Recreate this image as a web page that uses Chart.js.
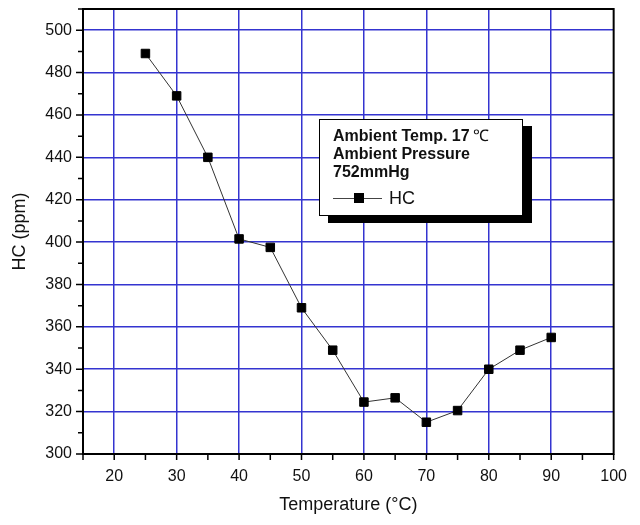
<!DOCTYPE html>
<html>
<head>
<meta charset="utf-8">
<script src="https://cdn.jsdelivr.net/npm/chart.js@4/dist/chart.umd.min.js"></script>
<style>
  body { margin: 0; background: #fff; }
  #wrap { position: relative; width: 640px; height: 525px; }
  #legend {
    position: absolute; left: 319px; top: 119px; width: 204px; height: 97px;
    box-sizing: border-box; border: 1.5px solid #000; background: #fff;
    box-shadow: 9px 7px 0 #000; padding: 7px 0 0 13px;
    font-family: "Liberation Sans", Arial, sans-serif; color: #111;
  }
  #legend .note { font-weight: bold; font-size: 16px; line-height: 18px; white-space: nowrap; }
  #legend .deg { font-weight: normal; margin-left: 3px; }
  #legend .row { display: flex; align-items: center; margin-top: 7px; }
  #legend .sample { position: relative; width: 49px; height: 10px; }
  #legend .sample::before { content: ""; position: absolute; left: 0; right: 0; top: 4.5px; height: 1px; background: #444; }
  #legend .sample::after { content: ""; position: absolute; left: 21px; top: 0; width: 10px; height: 10px; background: #000; }
  #legend .name { font-size: 18px; margin-left: 7px; line-height: 20px; }
</style>
</head>
<body>
<div id="wrap">
  <canvas id="chart" width="640" height="525"></canvas>
  <div id="legend"></div>
</div>
<script>
// Temperatura (°C) e HC (ppm)
const temps = [25, 30, 35, 40, 45, 50, 55, 60, 65, 70, 75, 80, 85, 90];
const hc = [489, 469, 440, 401.5, 397.5, 369, 349, 324.5, 326.5, 315, 320.5, 340, 349, 355];
const seriesName = "HC";
const notes = ["Ambient Temp. 17", "Ambient Pressure", "752mmHg"];
const xTitle = "Temperature (°C)";
const yTitle = "HC (ppm)";

const gridBlue = "#3434d0";

// legenda em HTML
const legend = document.getElementById("legend");
notes.forEach((t, i) => {
    const d = document.createElement("div");
    d.className = "note";
    d.textContent = t;
    if (i === 0) {
        const s = document.createElement("span");
        s.className = "deg";
        s.textContent = "℃";
        d.appendChild(s);
    }
    legend.appendChild(d);
});
const row = document.createElement("div");
row.className = "row";
row.innerHTML = '<div class="sample"></div><div class="name"></div>';
row.querySelector(".name").textContent = seriesName;
legend.appendChild(row);

const isMult = (v, m) => Math.abs(v / m - Math.round(v / m)) < 1e-6;

// moldura preta + marcas dos eixos (posições vindas das escalas)
const frame = {
    id: "frame",
    afterDatasetsDraw(chart) {
        const { ctx, chartArea: a, scales } = chart;
        ctx.save();
        ctx.strokeStyle = "#000";
        ctx.lineWidth = 1.5;
        ctx.beginPath();
        scales.x.ticks.forEach((t, i) => {
            const px = scales.x.getPixelForTick(i);
            ctx.moveTo(px, a.bottom);
            ctx.lineTo(px, a.bottom + 6);
        });
        scales.y.ticks.forEach((t, i) => {
            const py = scales.y.getPixelForTick(i);
            const len = isMult(t.value, 20) ? 7 : 5;
            ctx.moveTo(a.left - len, py);
            ctx.lineTo(a.left, py);
        });
        ctx.stroke();
        ctx.lineWidth = 2;
        ctx.strokeRect(a.left, a.top, a.right - a.left, a.bottom - a.top);
        ctx.restore();
    }
};

new Chart(document.getElementById("chart"), {
    type: "line",
    data: {
        datasets: [{
            label: seriesName,
            data: temps.map((t, i) => ({ x: t, y: hc[i] })),
            borderColor: "#333",
            borderWidth: 1,
            tension: 0,
            pointStyle: "rect",
            pointRadius: 6,
            pointBackgroundColor: "#000",
            pointBorderColor: "#000",
            pointBorderWidth: 1
        }]
    },
    options: {
        responsive: false,
        animation: false,
        layout: { padding: { left: 0, right: 25, top: 9, bottom: 5 } },
        plugins: { legend: { display: false }, tooltip: { enabled: false } },
        scales: {
            x: {
                type: "linear",
                min: 15,
                max: 100,
                afterFit: s => { s.height = 66; },
                border: { display: false },
                grid: {
                    color: gridBlue,
                    drawTicks: false,
                    lineWidth: c => {
                        const v = c.tick ? c.tick.value : 0;
                        return (isMult(v, 10) && v > 15 && v < 100) ? 1.5 : 0;
                    }
                },
                ticks: {
                    stepSize: 5,
                    autoSkip: false,
                    maxRotation: 0,
                    padding: 13,
                    color: "#111",
                    font: { family: "Liberation Sans", size: 16 },
                    callback: v => (isMult(v, 10) && v > 15) ? String(Math.round(v)) : ""
                },
                title: {
                    display: true,
                    text: xTitle,
                    color: "#111",
                    font: { family: "Liberation Sans", size: 18 },
                    padding: { top: 0, bottom: 4 }
                }
            },
            y: {
                min: 300,
                max: 510,
                afterFit: s => { s.width = 83; s.paddingTop = 0; },
                border: { display: false },
                grid: {
                    color: gridBlue,
                    drawTicks: false,
                    lineWidth: c => {
                        const v = c.tick ? c.tick.value : 0;
                        return (isMult(v, 20) && v > 300 && v <= 500) ? 1.5 : 0;
                    }
                },
                ticks: {
                    stepSize: 10,
                    autoSkip: false,
                    padding: 11,
                    color: "#111",
                    font: { family: "Liberation Sans", size: 16 },
                    callback: v => (isMult(v, 20) && v <= 500) ? String(Math.round(v)) : ""
                },
                title: {
                    display: true,
                    text: yTitle,
                    color: "#111",
                    font: { family: "Liberation Sans", size: 18 },
                    padding: { top: 9, bottom: 0 }
                }
            }
        }
    },
    plugins: [frame]
});
</script>
</body>
</html>
